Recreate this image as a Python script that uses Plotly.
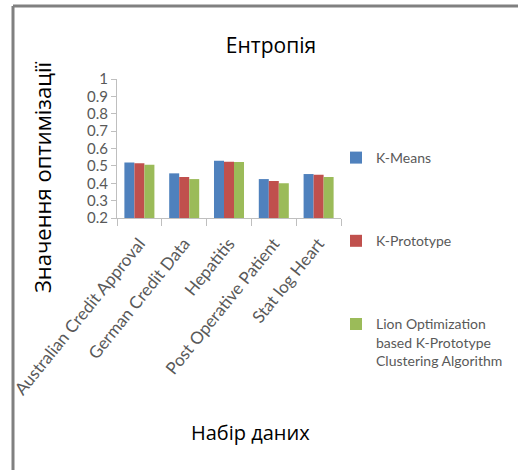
import plotly.graph_objects as go

# Datasets and entropy values per clustering method
datasets = ["Australian Credit Approval", "German Credit Data", "Hepatitis",
            "Post Operative Patient", "Stat log Heart"]
k_means = [0.52, 0.457, 0.53, 0.424, 0.453]
k_prototype = [0.515, 0.436, 0.524, 0.413, 0.449]
lion_kproto = [0.507, 0.424, 0.522, 0.40, 0.436]

series_names = ["K-Means", "K-Prototype",
                "Lion Optimization<br>based K-Prototype<br>Clustering Algorithm"]
series_values = [k_means, k_prototype, lion_kproto]
series_colors = ["#4F81BD", "#C0504D", "#9BBB59"]

y_ticks = [0.2, 0.3, 0.4, 0.5, 0.6, 0.7, 0.8, 0.9, 1.0]
y_tick_text = ["0.2", "0.3", "0.4", "0.5", "0.6", "0.7", "0.8", "0.9", "1"]

GRAY_TEXT = "#595959"
Y_TICK_FONT = dict(family="Lato, Open Sans, sans-serif", size=15, color=GRAY_TEXT)
X_TICK_FONT = dict(family="Lato, Open Sans, sans-serif", size=17, color=GRAY_TEXT)

fig = go.Figure()
for i, (name, vals, col) in enumerate(zip(series_names, series_values, series_colors)):
    fig.add_trace(go.Bar(
        x=datasets, y=vals, name=name, marker_color=col,
        marker_line_width=0, legendgroup=f"g{i}",
    ))

# plot-area geometry in pixels (used for paper-coordinate conversions)
L, R, T, B = 117, 341, 79, 218
W, H = 518, 470


def px_x(px):
    return (px - L) / (R - L)


def px_y(py):
    return (B - py) / (B - T)


fig.update_layout(
    width=W, height=H,
    margin=dict(l=L, r=W - R, t=T, b=H - B, autoexpand=False),
    paper_bgcolor="white", plot_bgcolor="white",
    barmode="group", bargap=0.33, bargroupgap=0,
    showlegend=True,
    title=dict(text="Ентропія", x=271 / W, xanchor="center",
               y=1 - 46 / H, yanchor="middle",
               font=dict(family="Open Sans, sans-serif", size=21, color="#000000")),
    xaxis=dict(
        type="category", tickangle=-51, tickfont=X_TICK_FONT,
        showline=True, linecolor="#BFBFBF", linewidth=1,
        ticks="outside", tickson="boundaries", ticklen=7, tickcolor="#BFBFBF",
        ticklabelstandoff=8, automargin=False,
        showgrid=False, zeroline=False,
    ),
    yaxis=dict(
        range=[0.2, 1.0], tickvals=y_ticks, ticktext=y_tick_text, tickfont=Y_TICK_FONT,
        showline=True, linecolor="#BFBFBF", linewidth=1,
        ticks="outside", ticklen=5, tickcolor="#BFBFBF",
        automargin=False,
        showgrid=False, zeroline=False,
    ),
    legend=dict(
        x=px_x(336), xanchor="left", y=px_y(142), yanchor="top",
        traceorder="grouped", tracegroupgap=62, valign="top",
        maxheight=420,
        font=dict(family="Lato, Open Sans, sans-serif", size=14, color=GRAY_TEXT),
        bgcolor="rgba(0,0,0,0)",
    ),
    annotations=[
        dict(text="Значення оптимізації", textangle=-90,
             x=px_x(42), y=px_y(177), xref="paper", yref="paper",
             xanchor="center", yanchor="middle", showarrow=False,
             font=dict(family="Open Sans, sans-serif", size=22, color="#000000")),
        dict(text="Набір даних",
             x=px_x(250), y=px_y(432), xref="paper", yref="paper",
             xanchor="center", yanchor="middle", showarrow=False,
             font=dict(family="Open Sans, sans-serif", size=20, color="#000000")),
    ],
    shapes=[
        # chart frame: left and top edges
        dict(type="line", xref="paper", yref="paper",
             x0=px_x(13), x1=px_x(13), y0=px_y(6), y1=px_y(480),
             line=dict(color="#808080", width=3)),
        dict(type="line", xref="paper", yref="paper",
             x0=px_x(13), x1=px_x(530), y0=px_y(6), y1=px_y(6),
             line=dict(color="#808080", width=3)),
    ],
)

fig.write_html("out.html")
